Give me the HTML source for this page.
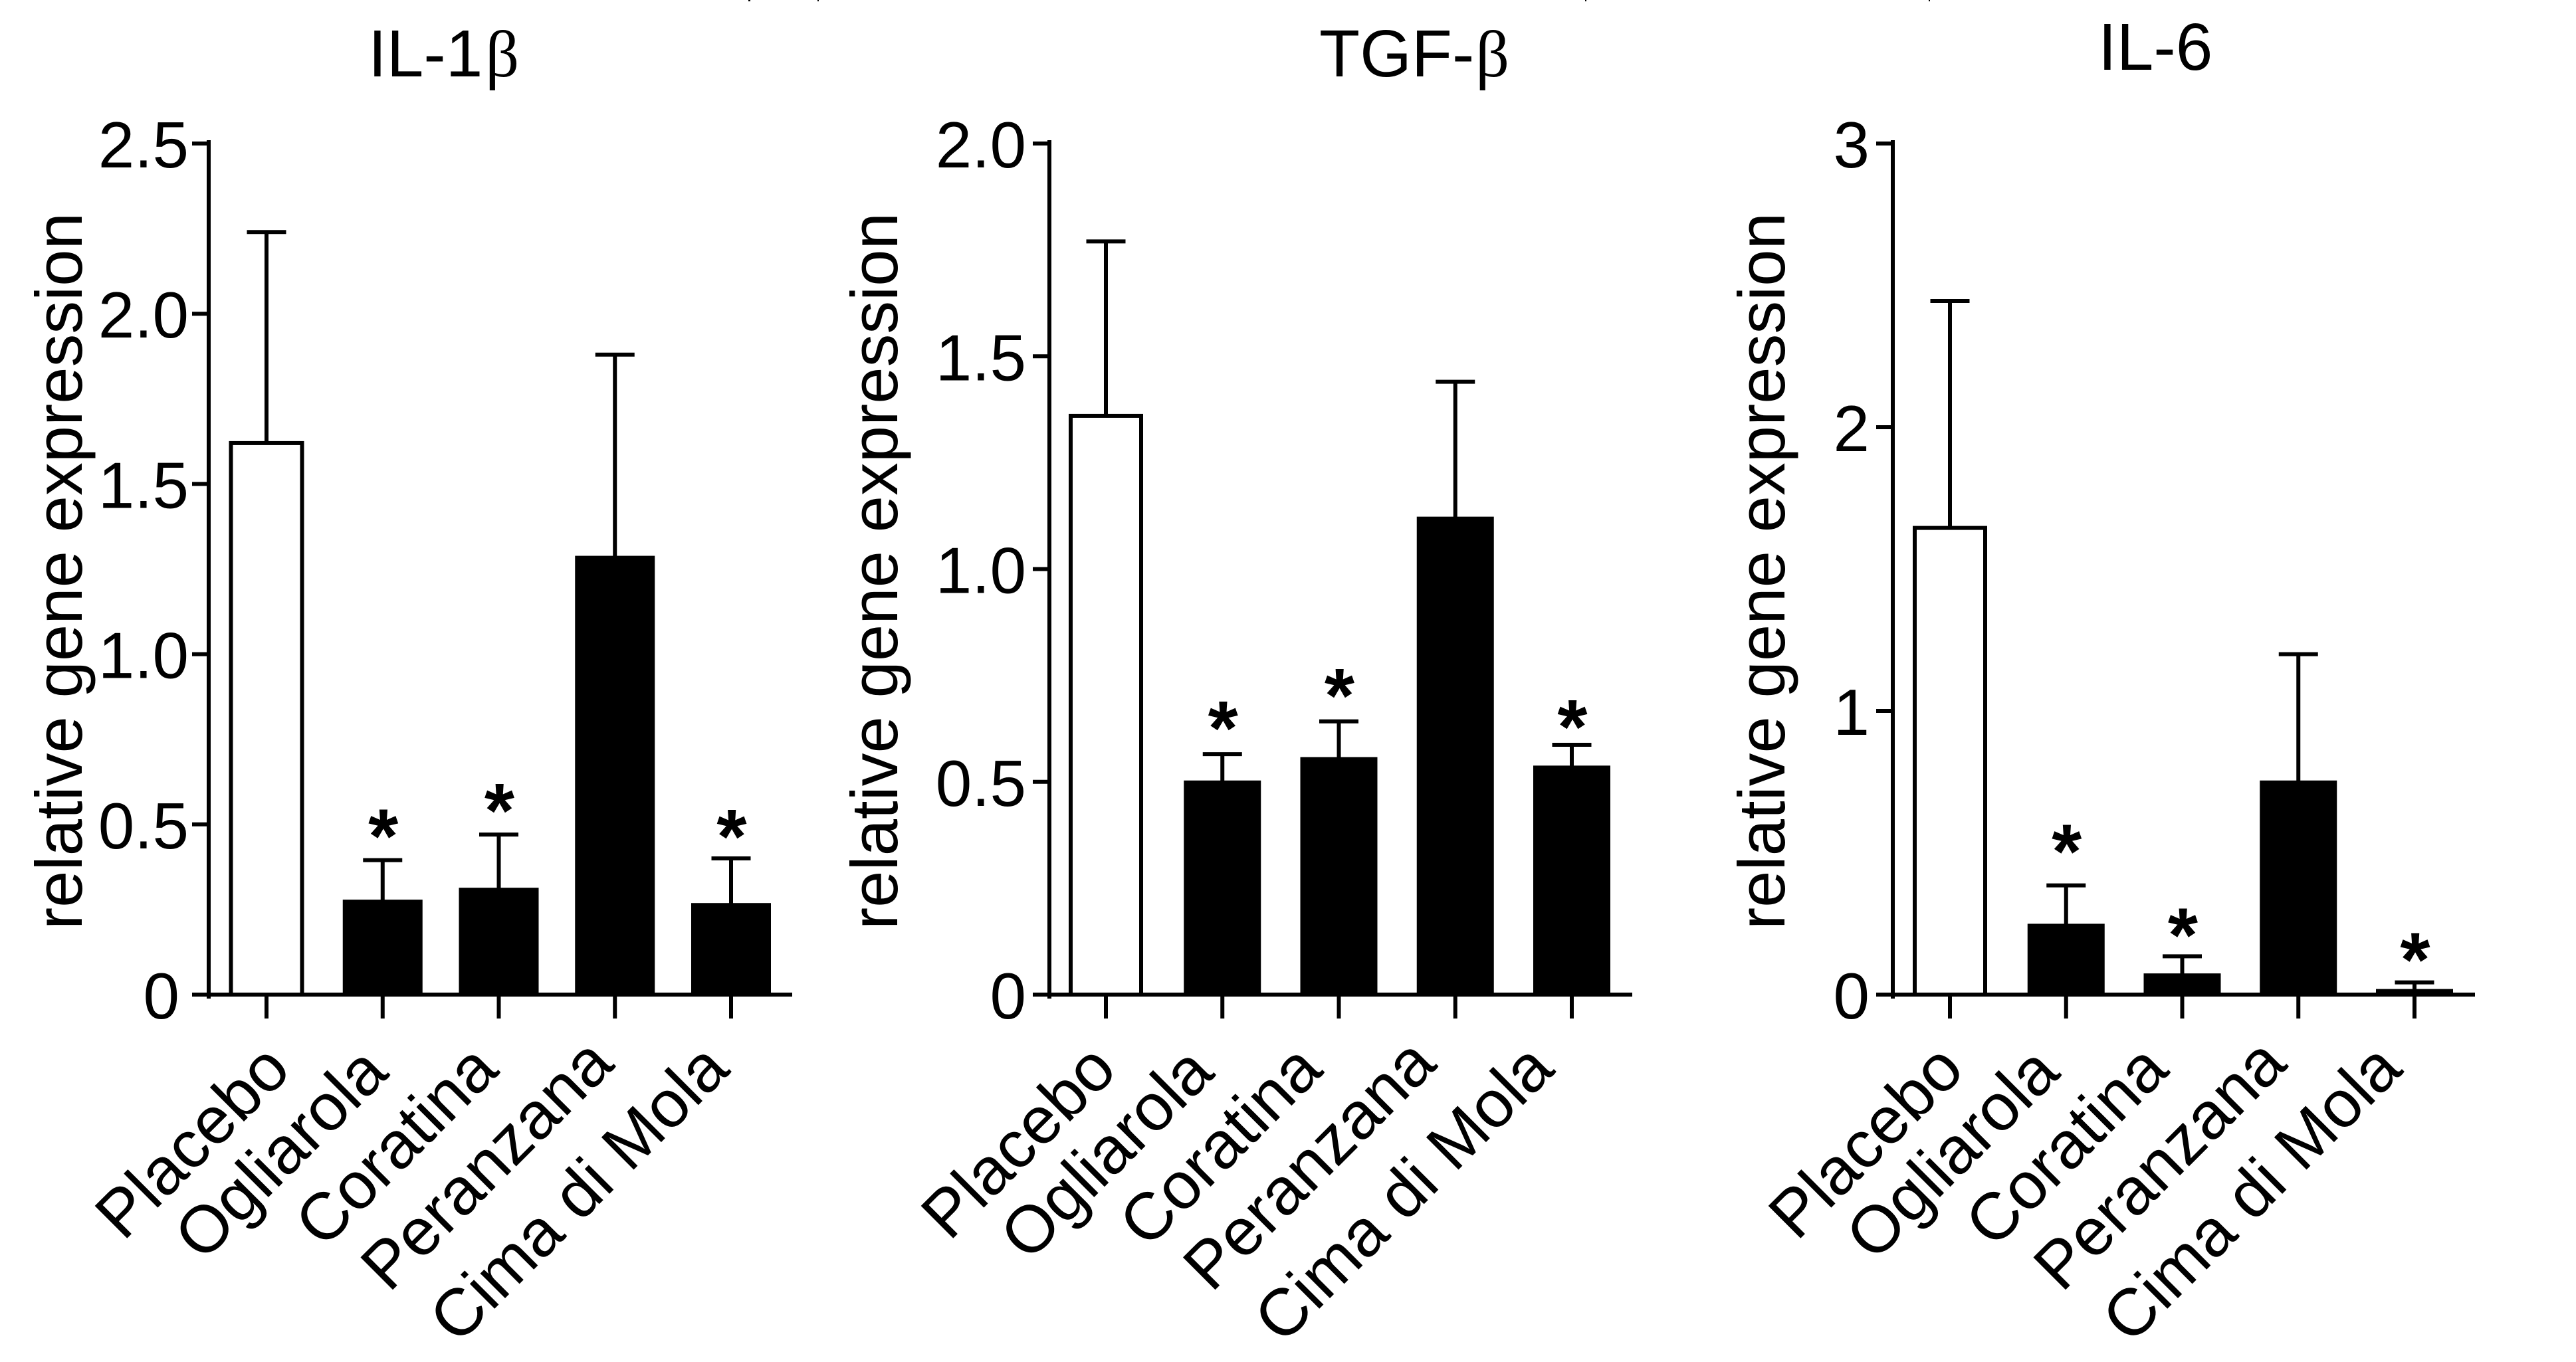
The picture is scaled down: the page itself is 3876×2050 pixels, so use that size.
<!DOCTYPE html>
<html lang="en">
<head>
<meta charset="utf-8">
<title>Relative gene expression: IL-1β, TGF-β, IL-6</title>
<style>
html,body{margin:0;padding:0;background:#fff;width:3876px;height:2050px;overflow:hidden}
svg{display:block}
text{font-family:"Liberation Sans",Arial,sans-serif;fill:#000}
.sym{font-family:"Liberation Serif","DejaVu Serif",serif}
</style>
</head>
<body>
<svg id="figure" xmlns="http://www.w3.org/2000/svg" width="3876" height="2050" viewBox="0 0 3876 2050">
  <rect width="3876" height="2050" fill="#fff"/>
  <g fill="#000">
    <rect x="1126" y="0" width="3" height="2"/>
    <rect x="1230" y="0" width="2" height="2"/>
    <rect x="2385" y="0" width="2" height="2"/>
    <rect x="2902" y="0" width="2" height="2"/>
  </g>
  <g id="panel-il1b">
    <text x="554" y="115" font-size="100">IL-1<tspan class="sym" dx="4">β</tspan></text>
    <text transform="translate(123,1399) rotate(-90)" font-size="99" textLength="1079" lengthAdjust="spacingAndGlyphs">relative gene expression</text>
  </g>
  <g id="panel-tgfb">
    <text x="1985" y="115" font-size="100">TGF-<tspan class="sym" dx="2">β</tspan></text>
    <text transform="translate(1350,1399) rotate(-90)" font-size="99" textLength="1079" lengthAdjust="spacingAndGlyphs">relative gene expression</text>
  </g>
  <g id="panel-il6">
    <text x="3157" y="105" font-size="100">IL-6</text>
    <text transform="translate(2685,1399) rotate(-90)" font-size="99" textLength="1079" lengthAdjust="spacingAndGlyphs">relative gene expression</text>
  </g>
</svg>
<script>
// Shared categories
const categories = ["Placebo", "Ogliarola", "Coratina", "Peranzana", "Cima di Mola"];
const significant = [false, true, true, false, true];

// IL-1 beta values
const il1bMeans = [1.62, 0.275, 0.31, 1.285, 0.265];
const il1bErrors = [0.62, 0.12, 0.16, 0.595, 0.135];
const il1bTicks = ["0", "0.5", "1.0", "1.5", "2.0", "2.5"];

// TGF-beta values
const tgfbMeans = [1.36, 0.50, 0.555, 1.12, 0.535];
const tgfbErrors = [0.41, 0.065, 0.087, 0.32, 0.052];
const tgfbTicks = ["0", "0.5", "1.0", "1.5", "2.0"];

// IL-6 values
const il6Means = [1.645, 0.245, 0.07, 0.75, 0.015];
const il6Errors = [0.80, 0.14, 0.065, 0.45, 0.028];
const il6Ticks = ["0", "1", "2", "3"];

const Y_TOP = 216, Y_BASE = 1497, SVG_NS = "http://www.w3.org/2000/svg";
const LABEL_BASE_Y = 1614;
const labelLift = [0, 4, 0, -9, -1];

function make(parent, tag, attrs, txt) {
  const el = document.createElementNS(SVG_NS, tag);
  for (const k in attrs) el.setAttribute(k, attrs[k]);
  if (txt !== undefined) el.textContent = txt;
  parent.appendChild(el);
  return el;
}

function drawPanel(p) {
  const root = document.getElementById(p.id);
  const yMax = parseFloat(p.ticks[p.ticks.length - 1]);
  const yScale = v => Y_BASE - (v / yMax) * (Y_BASE - Y_TOP);
  const xScale = i => p.x0 + p.step * i;

  p.means.forEach((m, i) => {
    const cx = xScale(i), top = yScale(m), errTop = yScale(m + p.errors[i]);

    const stem = make(root, "line", {x1: cx, x2: cx, y1: errTop, y2: top, stroke: "#000", "stroke-width": 6});
    
    

    const cap = make(root, "line", {x1: cx - 29.5, x2: cx + 29.5, y1: errTop, y2: errTop, stroke: "#000", "stroke-width": 6});
    
    

    let bar;
    if (i === 0) {
      bar = make(root, "rect", {x: cx - p.whiteW / 2 + 3, y: top, width: p.whiteW - 6, height: Y_BASE - top, fill: "#fff", stroke: "#000", "stroke-width": 6});
    } else {
      bar = make(root, "rect", {x: cx - p.blackW / 2, y: top - 2, width: p.blackW, height: Y_BASE - top + 2, fill: "#000"});
    }
    
    

    if (significant[i]) {
      const star = make(root, "text", {x: cx + 1, y: errTop - p.starGap[i] + 39, "font-size": 116, "font-weight": "bold", "text-anchor": "middle"}, "*");
      
      
    }

    const tick = make(root, "line", {x1: cx, x2: cx, y1: Y_BASE, y2: Y_BASE + 36, stroke: "#000", "stroke-width": 6});
    
    

    const bx = cx + p.labelDx[i], by = LABEL_BASE_Y + labelLift[i];
    const label = make(root, "text", {transform: `translate(${bx},${by}) rotate(-45)`, "font-size": 100, "text-anchor": "end"}, categories[i]);
    
    
  });

  p.ticks.forEach((t, i) => {
    const y = yScale(parseFloat(t));
    const tick = make(root, "line", {x1: p.axisX - 25, x2: p.axisX, y1: y, y2: y, stroke: "#000", "stroke-width": 6});
    
    

    const nudge = i === 0 ? p.zeroNudge : 0;
    const label = make(root, "text", {x: p.labelRight + nudge, y: y + 36, "font-size": 98, "text-anchor": "end"}, t);
    
    
  });

  const yAxis = make(root, "line", {x1: p.axisX, x2: p.axisX, y1: Y_TOP - 5, y2: Y_BASE + 6, stroke: "#000", "stroke-width": 6});
  
  

  const xAxis = make(root, "line", {x1: p.axisX - 25, x2: p.xEnd, y1: Y_BASE, y2: Y_BASE, stroke: "#000", "stroke-width": 6});
  
  
}

drawPanel({id: "panel-il1b", means: il1bMeans, errors: il1bErrors, ticks: il1bTicks,
  axisX: 314, xEnd: 1192, x0: 401, step: 174.75, whiteW: 113, blackW: 120, labelRight: 284, zeroNudge: -14,
  starGap: [0, 35, 35, 0, 32], labelDx: [40, 12, 3, 2, 1]});
drawPanel({id: "panel-tgfb", means: tgfbMeans, errors: tgfbErrors, ticks: tgfbTicks,
  axisX: 1579, xEnd: 2456, x0: 1664, step: 175.25, whiteW: 112, blackW: 116, labelRight: 1544, zeroNudge: 0,
  starGap: [0, 38, 38, 0, 26], labelDx: [20, -9, -21, -25, -23]});
drawPanel({id: "panel-il6", means: il6Means, errors: il6Errors, ticks: il6Ticks,
  axisX: 2848, xEnd: 3724, x0: 2934, step: 174.75, whiteW: 112, blackW: 116, labelRight: 2813, zeroNudge: 0,
  starGap: [0, 50, 31, 0, 33], labelDx: [25, -6, -17, -14, -15]});
</script>
</body>
</html>
